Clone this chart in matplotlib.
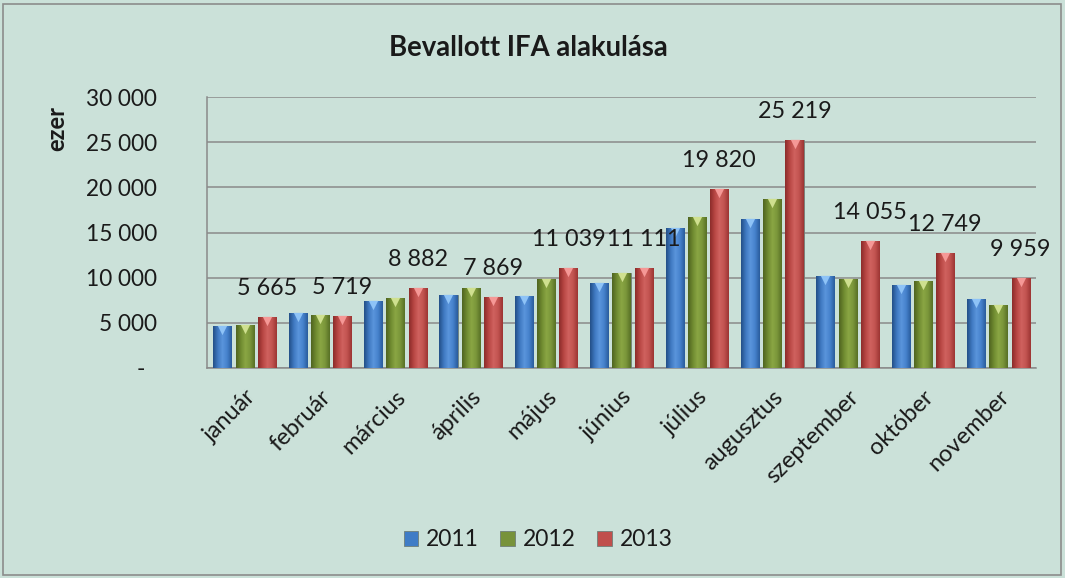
import numpy as np
import matplotlib
matplotlib.use("Agg")
import matplotlib.pyplot as plt
from matplotlib.patches import Rectangle
from matplotlib.colors import LinearSegmentedColormap
from matplotlib.ticker import FuncFormatter

plt.rcParams['font.family'] = ['Lato', 'DejaVu Sans']

months = ['január', 'február', 'március', 'április', 'május', 'június',
          'július', 'augusztus', 'szeptember', 'október', 'november']
years = ['2011', '2012', '2013']
v2011 = [4660, 6130, 7460, 8090, 7980, 9460, 15510, 16500, 10230, 9200, 7650]
v2012 = [4720, 5910, 7720, 8900, 9900, 10530, 16720, 18750, 9900, 9600, 7020]
v2013 = [5665, 5719, 8882, 7869, 11039, 11111, 19820, 25219, 14055, 12749, 9959]
series = [v2011, v2012, v2013]
yticks = [0, 5000, 10000, 15000, 20000, 25000, 30000]

bg = '#cbe1d9'
palettes = [
    ['#234f87', '#3f78c0', '#5a95dc', '#4682cc', '#2a5c9c'],
    ['#4f6420', '#6f8a30', '#8aa644', '#7a963a', '#587026'],
    ['#8c2c2a', '#b84643', '#d0625f', '#c25350', '#9c3533'],
]
caps = ['#8ec3f7', '#cfe08f', '#f59896']
mids = ['#3f7cc6', '#77923a', '#c04f4c']

fig = plt.figure(figsize=(10.65, 5.78), dpi=100)
fig.patch.set_facecolor(bg)
fig.patches.append(Rectangle((3 / 1065, 3 / 578), 1 - 7 / 1065, 1 - 7 / 578,
                             transform=fig.transFigure, fill=False,
                             edgecolor='#8c8c8c', lw=1.2))

ax = fig.add_axes([207 / 1065, 1 - 368 / 578, (1036 - 207) / 1065, (368 - 97) / 578])
ax.set_facecolor(bg)

x = np.arange(len(months))
w = 0.24
pitch = 0.296
for i, vals in enumerate(series):
    xs = x + (i - 1) * pitch
    bars = ax.bar(xs, vals, width=w, color=mids[i], edgecolor='#6f7f78',
                  linewidth=0.6, zorder=3, label=years[i])
    cmap = LinearSegmentedColormap.from_list('g%d' % i, palettes[i])
    grad = np.linspace(0, 1, 64).reshape(1, -1)
    for b in bars:
        x0 = b.get_x()
        h = b.get_height()
        im = ax.imshow(grad, extent=[x0, x0 + b.get_width(), 0, h],
                       aspect='auto', cmap=cmap, zorder=3.5, origin='lower',
                       interpolation='bilinear')
        im.set_clip_path(b)
    ax.scatter(xs, np.array(vals) - 450, marker='v', s=45, color=caps[i],
               zorder=4, linewidths=0)

for xi, v in zip(x + pitch, v2013):
    ax.annotate(f"{v:,}".replace(',', ' '), (xi, v), xytext=(0, 20.5),
                textcoords='offset points', ha='center', va='center',
                fontsize=16.8, color='#1a1a1a', zorder=6)

ax.set_xlim(-0.5, len(months) - 0.5)
ax.set_ylim(0, 30000)
ax.set_yticks(yticks)
ax.yaxis.set_major_formatter(FuncFormatter(
    lambda v, p: '-  ' if v == 0 else f"{int(v):,}".replace(',', ' ')))
ax.grid(axis='y', color='#8a8a8a', lw=1.1, zorder=0)
ax.set_axisbelow(True)
ax.tick_params(axis='y', length=0, pad=36, labelsize=16.3, colors='#1a1a1a')
ax.tick_params(axis='x', length=0, pad=13, labelsize=17, colors='#1a1a1a')
ax.set_xticks(x)
ax.set_xticklabels(months, rotation=45, ha='right', rotation_mode='anchor')
for s in ['top', 'right']:
    ax.spines[s].set_visible(False)
for s in ['left', 'bottom']:
    ax.spines[s].set_color('#8a8a8a')
    ax.spines[s].set_linewidth(1.1)

fig.text(528 / 1065, 1 - 48 / 578, 'Bevallott IFA alakulása', ha='center',
         va='center', fontsize=19.8, fontweight='bold', color='#1a1a1a')
fig.text(57 / 1065, 1 - 128 / 578, 'ezer', rotation=90, ha='center',
         va='center', fontsize=17, fontweight='bold', color='#1a1a1a')

handles = [Rectangle((0, 0), 1, 1, facecolor=mids[i], edgecolor='#6f7f78', lw=0.6)
           for i in range(3)]
leg = fig.legend(handles, years, loc='center', bbox_to_anchor=(538 / 1065, 1 - 540 / 578),
                 ncol=3, frameon=False, fontsize=16.5, handlelength=0.62,
                 handleheight=0.62, handletextpad=0.35, columnspacing=0.95)
for t in leg.get_texts():
    t.set_color('#1a1a1a')

fig.savefig('out.png', dpi=100, facecolor=bg)
